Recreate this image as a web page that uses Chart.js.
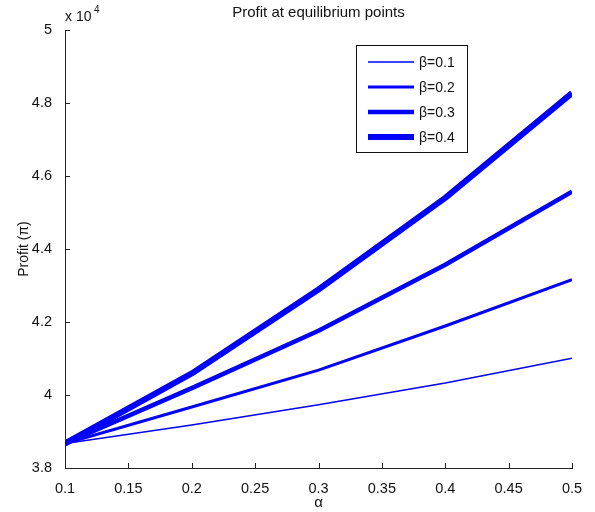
<!DOCTYPE html>
<html>
<head>
<meta charset="utf-8">
<script src="https://cdn.jsdelivr.net/npm/chart.js@4"></script>
<style>
  html, body { margin:0; padding:0; background:#fff; }
  #wrap { width:595px; height:512px; }
</style>
</head>
<body>
<div id="wrap"><canvas id="c" width="595" height="512"></canvas></div>
<script>
/* Profit at equilibrium points */

const alphas = [0.1, 0.2, 0.3, 0.4, 0.5];
const betaLabels = ['β=0.1', 'β=0.2', 'β=0.3', 'β=0.4'];
const profitB1 = [38670, 39180, 39730, 40330, 41010];
const profitB2 = [38670, 39670, 40680, 41890, 43160];
const profitB3 = [38670, 40190, 41760, 43570, 45570];
const profitB4 = [38670, 40590, 42890, 45400, 48270];
const lineWidths = [1.5, 3, 4.5, 6];

const series = [profitB1, profitB2, profitB3, profitB4];
const FONT = 'Liberation Sans, Arial, Helvetica, sans-serif';

const overlay = {
  id: 'overlay',
  afterDraw(chart) {
    const ctx = chart.ctx;
    const a = chart.chartArea;
    const xs = chart.scales.x, ys = chart.scales.y;
    ctx.save();

    // inward ticks, matlab style
    ctx.strokeStyle = '#222';
    ctx.lineWidth = 1;
    xs.ticks.forEach(t => {
      const px = Math.round(xs.getPixelForValue(t.value)) + 0.5;
      ctx.beginPath(); ctx.moveTo(px, a.bottom); ctx.lineTo(px, a.bottom - 5); ctx.stroke();
    });
    ys.ticks.forEach(t => {
      const py = Math.round(ys.getPixelForValue(t.value)) + 0.5;
      ctx.beginPath(); ctx.moveTo(a.left, py); ctx.lineTo(a.left + 5, py); ctx.stroke();
    });

    // title + labels
    ctx.fillStyle = '#111';
    ctx.font = '15px ' + FONT;
    ctx.textAlign = 'center';
    ctx.textBaseline = 'middle';
    ctx.fillText('Profit at equilibrium points', (a.left + a.right) / 2, 13);
    ctx.font = '15px ' + FONT;
    ctx.fillText('α', (a.left + a.right) / 2, 503);

    ctx.save();
    ctx.translate(24, (a.top + a.bottom) / 2);
    ctx.rotate(-Math.PI / 2);
    ctx.font = '14px ' + FONT;
    ctx.fillText('Profit (π)', 0, 0);
    ctx.restore();

    // exponent label
    ctx.textAlign = 'left';
    ctx.font = '14px ' + FONT;
    ctx.fillText('x 10', 65, 17);
    ctx.font = '10px ' + FONT;
    ctx.fillText('4', 94, 10);

    // legend box
    const lx = 356.5, ly = 45.5, lw = 111, lh = 107;
    ctx.fillStyle = '#fff';
    ctx.fillRect(lx, ly, lw, lh);
    ctx.strokeStyle = '#111';
    ctx.lineWidth = 1;
    ctx.strokeRect(lx, ly, lw, lh);
    ctx.font = '14px ' + FONT;
    ctx.textBaseline = 'middle';
    betaLabels.forEach((lab, i) => {
      const y = 62 + i * 25;
      ctx.strokeStyle = '#0000ff';
      ctx.lineWidth = lineWidths[i];
      ctx.beginPath(); ctx.moveTo(368, y); ctx.lineTo(414, y); ctx.stroke();
      ctx.fillStyle = '#111';
      ctx.fillText(lab, 419, y + 1);
    });
    ctx.restore();
  }
};

new Chart(document.getElementById('c'), {
  type: 'line',
  data: {
    datasets: series.map((vals, i) => ({
      label: betaLabels[i],
      data: alphas.map((x, j) => ({ x: x, y: vals[j] })),
      borderColor: '#0000ff',
      backgroundColor: 'transparent',
      borderWidth: lineWidths[i],
      pointRadius: 0,
      tension: 0,
      borderJoinStyle: 'round',
      borderCapStyle: 'butt'
    }))
  },
  options: {
    responsive: false,
    animation: false,
    events: [],
    layout: { padding: { left: 0, right: 23, top: 30, bottom: 0 } },
    plugins: { legend: { display: false }, title: { display: false }, tooltip: { enabled: false } },
    scales: {
      x: {
        type: 'linear', min: 0.1, max: 0.5,
        grid: { display: false },
        border: { display: true, color: '#222', width: 1 },
        ticks: {
          stepSize: 0.05, color: '#111', padding: 4, maxRotation: 0,
          font: { family: FONT, size: 14.5 },
          callback: v => String(Math.round(v * 100) / 100)
        },
        afterFit: s => { s.height = 44; }
      },
      y: {
        min: 38000, max: 50000,
        grid: { display: false },
        border: { display: true, color: '#222', width: 1 },
        ticks: {
          stepSize: 2000, color: '#111', padding: 5,
          font: { family: FONT, size: 14.5 },
          callback: v => String(Math.round(v / 1000) / 10)
        },
        afterFit: s => { s.width = 65; }
      }
    }
  },
  plugins: [overlay]
});
</script>
</body>
</html>
